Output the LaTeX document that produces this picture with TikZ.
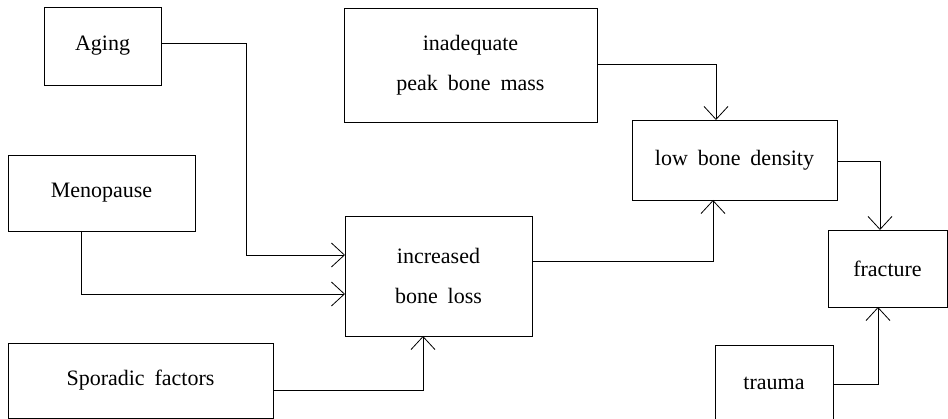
\documentclass[tikz,border=0pt]{standalone}
\usepackage{fontspec}
\setmainfont{Liberation Serif}
\usetikzlibrary{arrows.meta,positioning}
\newcommand{\wsp}{\hspace{0.45em}}

\begin{document}
\begin{tikzpicture}[x=1pt, y=-1pt,
  box/.style={draw, line width=0.8pt, inner sep=0pt, outer sep=0pt, align=center,
    font=\fontsize{22}{40}\selectfont},
  flow/.style={line width=0.8pt, -{Straight Barb[length=13pt, width=24pt, line width=0.8pt]}}]
  \useasboundingbox (0,0) rectangle (948,419);
  % the causes
  \node[box, minimum width=117, minimum height=78] (aging) at (102.5,46) {Aging};
  \node[box, minimum width=187, minimum height=76] (meno) at (101.5,193) {Menopause};
  \node[box, minimum width=265, minimum height=75] (spor) at (140.5,380.5) {Sporadic\wsp factors};
  \node[box, minimum width=253, minimum height=114] (inad) at (470.5,65) {inadequate\\peak\wsp bone\wsp mass};
  % the chain to the fracture
  \node[box, minimum width=187, minimum height=120] (incr) at (438.5,276) {increased\\bone\wsp loss};
  \node[box, minimum width=205, minimum height=80] (low) at (734.5,160) {low\wsp bone\wsp density};
  \node[box, minimum width=119, minimum height=77] (frac) at (887.5,268.5) {fracture};
  \node[box, minimum width=118, minimum height=76] (trau) at (774,383) {trauma};
  % bends of the connectors
  \coordinate (a1) at (246,255);
  \coordinate (m1) at (81,294);
  \coordinate (s1) at (423,390);
  \coordinate (p1) at (716,64);
  \coordinate (i1) at (713,261);
  \coordinate (l1) at (880,161);
  \coordinate (t1) at (878,384);
  \draw[flow] ([yshift=3pt]aging.east) -| (a1) -- (a1 -| incr.west);
  \draw[flow] (meno.south -| m1) |- (m1 -| incr.west);
  \draw[flow] (s1 -| spor.east) -| (incr.south -| s1);
  \draw[flow] (p1 -| inad.east) -| (low.north -| p1);
  \draw[flow] (i1 -| incr.east) -| (low.south -| i1);
  \draw[flow] (l1 -| low.east) -| (frac.north -| l1);
  \draw[flow] (t1 -| trau.east) -| (frac.south -| t1);
\end{tikzpicture}
\end{document}
